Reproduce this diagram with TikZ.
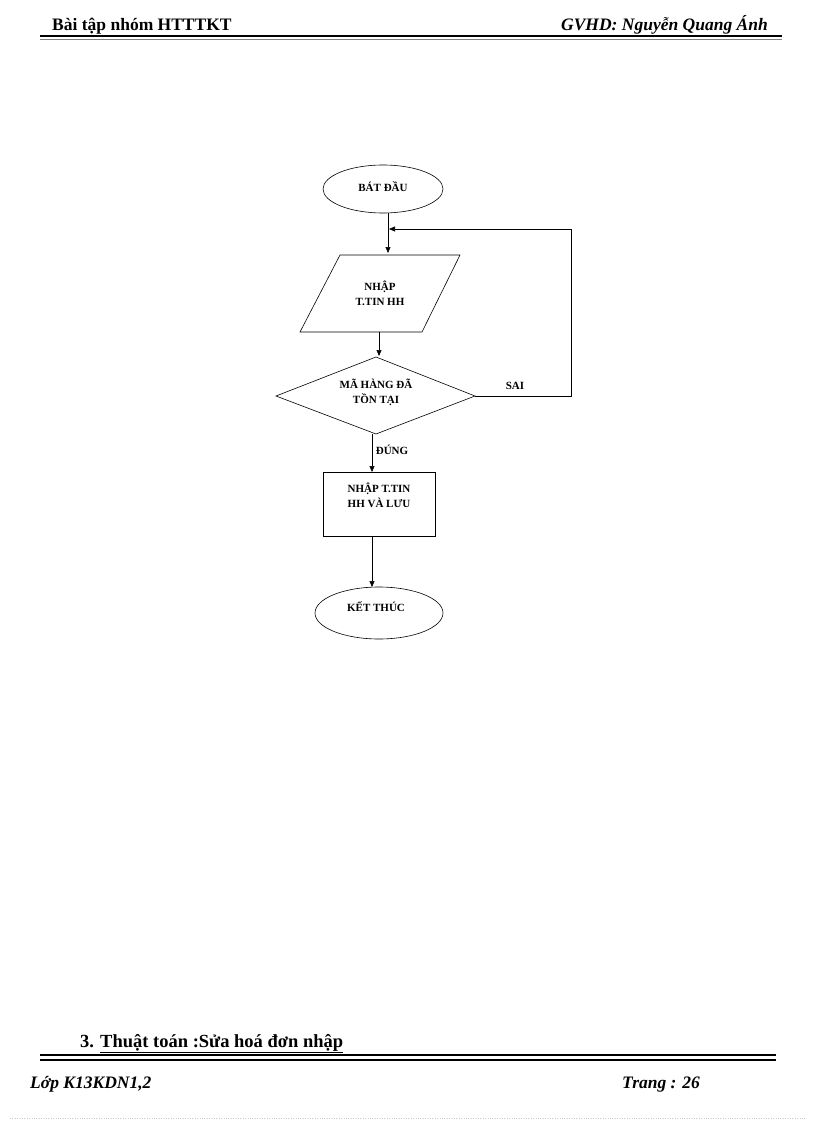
\documentclass[tikz,border=0pt]{standalone}
\usepackage{fontspec}
\setmainfont{Liberation Serif}
\usetikzlibrary{shapes.geometric,arrows.meta}
\begin{document}
\begin{tikzpicture}[x=1pt,y=-1pt,
  lbl/.style={font=\bfseries\fontsize{11}{13}\selectfont,align=center,inner sep=0},
  hd/.style={font=\bfseries\fontsize{17.5}{20}\selectfont,inner sep=0,anchor=base west},
  arr/.style={-{Triangle[length=6pt,width=5pt]},line width=0.6pt},
  shp/.style={draw,line width=0.6pt}]
\useasboundingbox (0,0) rectangle (816,1123);
% header
\node[hd] (h1) at (52,31) {Bài tập nhóm HTTTKT};
\node[hd,anchor=base east] (h2) at (768,31) {\itshape GVHD: Nguyễn Quang  Ánh};
\draw[line width=2pt] (40,36) -- (782,36);
\draw[line width=0.6pt,gray] (40,39) -- (782,39);
% flowchart
\draw[shp] (383,189) ellipse (60 and 24);
\node[lbl] (s) at (383,187) {BÁT ĐẦU};
\coordinate (sb) at (388,213);
\coordinate (p1) at (388,253);
\draw[shp] (340,255) -- (460,255) -- (422,332) -- (300,332) -- cycle;
\node[lbl] (p) at (380,293) {NHẬP\\[2pt]T.TIN  HH};
\draw[arr] (sb) -- (p1);
\draw[arr] (379,332) -- (379,356);
\draw[shp] (376,357) -- (475,396) -- (376,434) -- (276,396) -- cycle;
\node[lbl] (d) at (376,392) {MÃ  HÀNG  ĐÃ\\[2pt]TỒN TẠI};
\coordinate (dr) at (475,396);
\coordinate (c1) at (571,396);
\coordinate (c2) at (571,229);
\coordinate (c3) at (389,229);
\draw[arr] (dr) -- (c1) -- (c2) -- (c3);
\node[lbl] (sai) at (515,386) {SAI};
\node[lbl] (dung) at (392,450) {ĐÚNG};
\draw[arr] (372,434) -- (372,472);
\draw[shp] (323,472) rectangle (435,536);
\node[lbl] (r) at (379,495) {NHẬP  T.TIN\\[2pt]HH  VÀ  LƯU};
\draw[arr] (372,536) -- (372,587);
\draw[shp] (379,613) ellipse (64 and 26);
\node[lbl] (e) at (376,607) {KẾT  THÚC};
% footer
\node[hd,font=\bfseries\fontsize{18.5}{21}\selectfont] (f1) at (80,1047) {3. \underline{Thuật toán :Sửa hoá đơn nhập}};
\draw[line width=2pt] (40,1055) -- (776,1055);
\draw[line width=2pt] (40,1060) -- (776,1060);
\node[hd,font=\bfseries\itshape\fontsize{17.5}{20}\selectfont] (f2) at (30,1088) {Lớp K13KDN1,2};
\node[hd,font=\bfseries\itshape\fontsize{17.5}{20}\selectfont] (f3) at (622,1088) {Trang : 26};
\draw[dotted,gray!40] (10,1118) -- (806,1118);
\end{tikzpicture}
\end{document}
